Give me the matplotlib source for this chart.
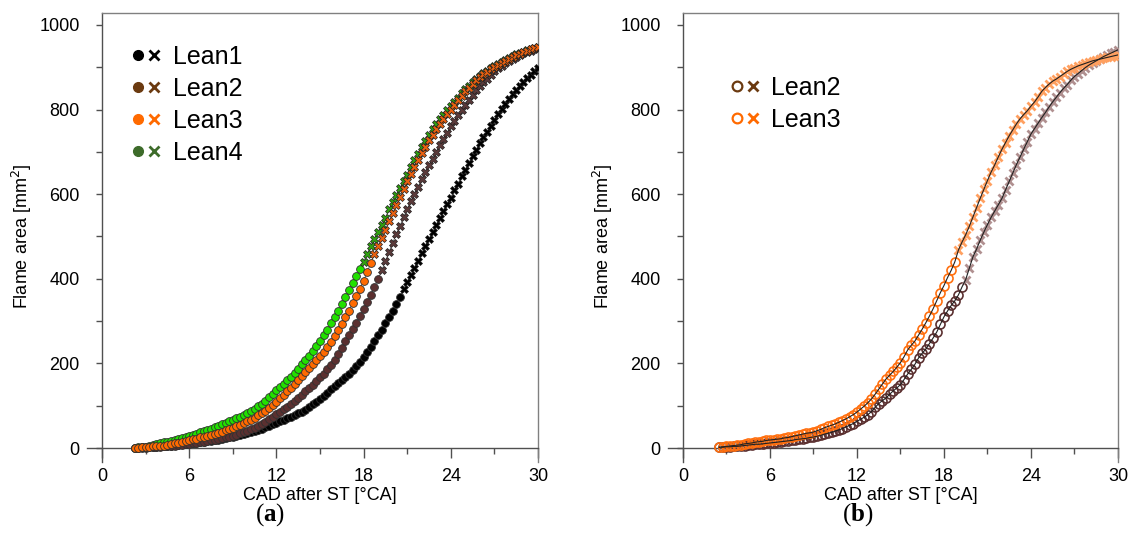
import numpy as np
import matplotlib
matplotlib.use('Agg')
import matplotlib.pyplot as plt
from matplotlib.lines import Line2D
from matplotlib.legend_handler import HandlerTuple

plt.rcParams['font.family'] = ['Liberation Sans', 'DejaVu Sans']
plt.rcParams['mathtext.fontset'] = 'custom'
plt.rcParams['mathtext.bf'] = 'Liberation Serif:bold'

# crank angle grid (deg CA after spark timing), one frame every 0.25 deg
cad_a = np.arange(2.25, 30.001, 0.25)
cad_b = np.arange(2.5, 30.001, 0.25)

# panel (a) flame area [mm^2]
lean1 = [1, 1, 2, 2, 2, 3, 3, 4, 4, 5, 6, 7, 8, 9, 10, 11, 12, 13, 14, 15,
         16, 17, 19, 20, 22, 23, 25, 27, 29, 31, 33, 35, 38, 40, 43, 46, 49, 53, 56, 60,
         63, 67, 70, 74, 78, 82, 86, 91, 97, 103, 110, 117, 124, 131, 139, 146,
         153, 160, 167, 175, 184, 194, 204, 214, 226, 239, 252, 266, 280, 295, 310, 325,
         341, 358, 375, 392, 409, 426, 443, 460, 477, 494, 510, 527, 543, 560, 576, 592,
         609, 625, 642, 658, 674, 690, 705, 720, 734, 748, 762, 776, 789, 801, 814, 826,
         836, 846, 856, 866, 874, 882, 890, 897]
lean2 = [0, 1, 1, 1, 2, 2, 3, 3, 4, 4, 5, 6, 7, 8, 9, 10, 11, 12, 14, 15,
         16, 18, 19, 21, 23, 25, 27, 29, 32, 35, 38, 41, 44, 48, 52, 56, 61, 68, 74, 80,
         86, 92, 98, 105, 112, 119, 126, 134, 142, 150, 158, 167, 176, 186, 197, 208,
         222, 237, 252, 266, 281, 296, 312, 328, 345, 362, 380, 399, 420, 441, 463, 485,
         505, 525, 545, 565, 583, 601, 618, 635, 652, 668, 684, 700, 715, 730, 745, 760,
         773, 786, 798, 810, 822, 834, 845, 855, 864, 873, 882, 890, 897, 903, 909, 915,
         920, 925, 929, 933, 936, 939, 942, 945]
lean3 = [1, 1, 2, 2, 3, 4, 4, 5, 6, 8, 9, 11, 13, 15, 17, 19, 21, 22, 25, 27,
         29, 31, 34, 36, 39, 42, 45, 48, 52, 55, 59, 63, 67, 72, 77, 82, 88, 95, 102, 110,
         118, 126, 134, 143, 152, 161, 170, 180, 189, 198, 207, 217, 228, 239, 251, 264,
         279, 294, 309, 325, 342, 360, 377, 395, 416, 437, 458, 478, 497, 516, 536, 555,
         574, 593, 612, 630, 648, 665, 681, 697, 712, 727, 740, 753, 765, 777, 789, 800,
         811, 822, 833, 843, 852, 861, 869, 877, 883, 889, 895, 900, 905, 910, 915, 920,
         924, 928, 932, 936, 939, 942, 945, 948]
lean4 = [1, 2, 2, 3, 5, 7, 9, 12, 14, 15, 17, 19, 21, 23, 26, 28, 31, 34, 37, 40,
         43, 46, 49, 52, 56, 60, 63, 67, 71, 74, 78, 82, 87, 93, 99, 105, 112, 120, 128, 137,
         144, 152, 160, 169, 178, 188, 198, 208, 218, 230, 241, 254, 266, 280, 295, 309,
         324, 340, 356, 373, 390, 406, 422, 440, 459, 478, 494, 510, 526, 544, 564, 582,
         598, 614, 630, 645, 663, 680, 696, 712, 726, 740, 753, 766, 777, 788, 798, 808,
         818, 828, 838, 848, 856, 864, 872, 880, 886, 892, 898, 903, 908, 913, 918, 922,
         926, 930, 934, 937, 940, 943, 946, 948]

# panel (b)
lean2_b = [2, 2, 3, 3, 4, 4, 5, 6, 7, 8, 9, 9, 10, 11, 12, 13, 14, 15, 16,
           17, 18, 20, 21, 22, 23, 25, 26, 28, 30, 33, 35, 37, 40, 43, 46, 50, 54, 58, 63,
           68, 73, 79, 86, 96, 105, 112, 118, 127, 135, 142, 150, 162, 175, 186, 198,
           213, 224, 234, 247, 260, 274, 292, 310, 324, 337, 348, 362, 381, 398, 425, 452,
           470, 491, 510, 528, 545, 560, 575, 590, 610, 630, 650, 670, 688, 706, 724, 742,
           755, 768, 781, 793, 806, 818, 829, 840, 850, 859, 869, 878, 885, 892, 899, 905,
           910, 915, 920, 925, 929, 933, 937, 941]
lean3_b = [2, 3, 4, 5, 6, 7, 8, 10, 11, 12, 14, 15, 16, 18, 19, 20, 21, 22, 24,
           25, 27, 29, 31, 33, 35, 36, 38, 41, 44, 48, 51, 54, 57, 61, 65, 69, 74, 79, 85,
           92, 99, 107, 116, 127, 139, 151, 163, 172, 181, 191, 202, 216, 232, 243, 253,
           267, 281, 296, 312, 329, 348, 367, 384, 403, 420, 440, 468, 487, 504, 524, 546,
           568, 590, 611, 632, 652, 669, 688, 706, 722, 738, 752, 766, 778, 788, 797, 808,
           818, 830, 843, 852, 860, 867, 872, 878, 884, 890, 895, 899, 903, 906, 909, 912,
           915, 917, 919, 921, 923, 925, 927, 929]

# last frame index still drawn as circle (flame inside window)
split_a = {'Lean1': 73, 'Lean2': 67, 'Lean3': 65, 'Lean4': 62}
split_b = {'Lean2': 67, 'Lean3': 65}

fill_a = {'Lean1': 'black', 'Lean2': '#5b3030', 'Lean3': '#ff6a00', 'Lean4': '#22e000'}
cross_a = {'Lean1': 'black', 'Lean2': '#5b3a3a', 'Lean3': '#e86010', 'Lean4': '#30a010'}
leg_a = {'Lean1': 'black', 'Lean2': '#6b3a10', 'Lean3': '#ff6a00', 'Lean4': '#3d6b2a'}
edge_b = {'Lean2': '#5b3030', 'Lean3': '#ff7010'}
cross_b = {'Lean2': '#b09090', 'Lean3': '#ffa060'}
leg_b = {'Lean2': '#6b3a10', 'Lean3': '#ff6a00'}

fig = plt.figure(figsize=(11.33, 5.52), dpi=100)
ax1 = fig.add_axes([0.0772, 0.163, 0.3976, 0.8134])
ax2 = fig.add_axes([0.590, 0.163, 0.3967, 0.8134])


def style(ax):
    ax.set_xlim(-1, 30)
    ax.set_ylim(-33, 1028)
    ax.spines['left'].set_position(('data', 0))
    ax.spines['bottom'].set_position(('data', 0))
    ax.spines['top'].set_bounds(0, 30)
    for s in ['left', 'bottom']:
        ax.spines[s].set_color('#505050')
    for s in ['top', 'right']:
        ax.spines[s].set_color('#808080')
    for s in ax.spines.values():
        s.set_linewidth(1.0)
    ax.set_xticks([0, 6, 12, 18, 24, 30])
    ax.set_xticks([3, 9, 15, 21, 27], minor=True)
    ax.set_yticks([0, 200, 400, 600, 800, 1000])
    ax.set_yticks([100, 300, 500, 700, 900], minor=True)
    ax.tick_params(axis='x', which='major', direction='out', length=7, width=1,
                   color='#505050', labelsize=13, pad=7)
    ax.tick_params(axis='x', which='minor', direction='out', length=4, width=1,
                   color='#505050')
    ax.tick_params(axis='y', which='both', direction='out', length=4, width=1,
                   color='#505050', labelsize=13, pad=12)
    ax.set_xlabel('CAD after ST [°CA]', fontsize=13)
    ax.set_ylabel('Flame area [mm$^2$]', fontsize=13)
    ax.xaxis.set_label_coords(0.516, -0.055)
    ax.yaxis.set_label_coords(-0.118, 0.503)


# panel (a)
series_a = [('Lean1', lean1), ('Lean2', lean2), ('Lean4', lean4), ('Lean3', lean3)]
for name, vals in series_a:
    vals = np.array(vals)
    k = split_a[name] + 1
    ax1.plot(cad_a, vals, color='#404040', lw=0.5, zorder=2)
    ax1.plot(cad_a[:k], vals[:k], 'o', ms=5.6, mfc=fill_a[name], mec='#303030',
             mew=0.6, zorder=3)
    ax1.plot(cad_a[k:], vals[k:], 'X', ms=6, mfc=cross_a[name], mec='#202020',
             mew=0.5, zorder=3)

handles = []
labels = []
for name in ['Lean1', 'Lean2', 'Lean3', 'Lean4']:
    c = leg_a[name]
    h1 = Line2D([], [], ls='none', marker='o', ms=7, mfc=c, mec=c)
    h2 = Line2D([], [], ls='none', marker='x', ms=7, mec=c, mew=2)
    handles.append((h1, h2))
    labels.append(name)
ax1.legend(handles, labels, handler_map={tuple: HandlerTuple(ndivide=None, pad=0.05)},
           loc='upper left', bbox_to_anchor=(0.075, 0.952), frameon=False,
           fontsize=18, handlelength=1.2, handletextpad=0.45, labelspacing=0.32,
           borderaxespad=0)
style(ax1)

# panel (b)
series_b = [('Lean2', lean2_b), ('Lean3', lean3_b)]
for name, vals in series_b:
    vals = np.array(vals)
    k = split_b[name] + 1
    ax2.plot(cad_b[:k], vals[:k], 'o', ms=6.5, mfc='none', mec=edge_b[name],
             mew=1.2, zorder=3)
    ax2.plot(cad_b[k:], vals[k:], 'x', ms=5.5, mec=cross_b[name], mew=2,
             zorder=3)
    ax2.plot(cad_b, vals, color='#202020', lw=0.8, zorder=4)

handles = []
for name in ['Lean2', 'Lean3']:
    c = leg_b[name]
    h1 = Line2D([], [], ls='none', marker='o', ms=7, mfc='none', mec=c, mew=1.6)
    h2 = Line2D([], [], ls='none', marker='x', ms=7, mec=c, mew=2)
    handles.append((h1, h2))
ax2.legend(handles, ['Lean2', 'Lean3'],
           handler_map={tuple: HandlerTuple(ndivide=None, pad=0.05)},
           loc='upper left', bbox_to_anchor=(0.115, 0.882), frameon=False,
           fontsize=18, handlelength=1.2, handletextpad=0.45, labelspacing=0.32,
           borderaxespad=0)
style(ax2)

fig.text(0.238, 0.067, r'($\mathbf{a}$)', ha='center', va='center', fontsize=18,
         family='Liberation Serif')
fig.text(0.757, 0.067, r'($\mathbf{b}$)', ha='center', va='center', fontsize=18,
         family='Liberation Serif')

fig.savefig('out.png', dpi=100)
